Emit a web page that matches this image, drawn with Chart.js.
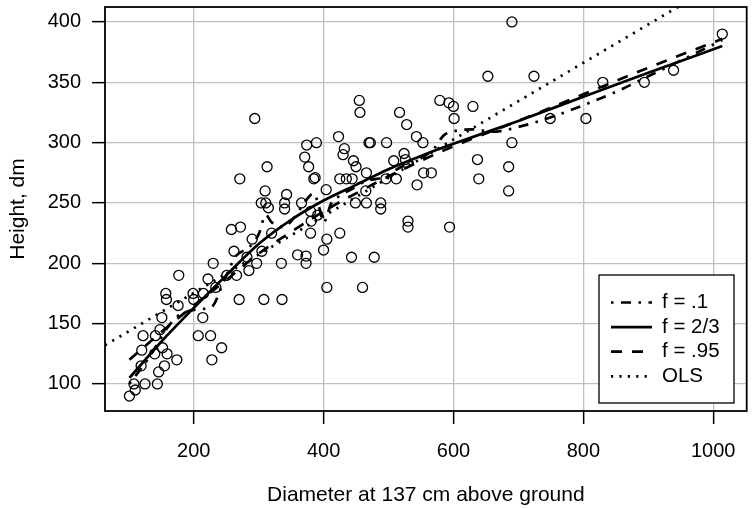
<!DOCTYPE html>
<html>
<head>
<meta charset="utf-8">
<script src="https://cdn.jsdelivr.net/npm/chart.js@4.4.0/dist/chart.umd.min.js"></script>
<style>
    html, body { margin: 0; padding: 0; background: #fff; }
    #wrap { width: 753px; height: 508px; }
</style>
</head>
<body>
<div id="wrap"><canvas id="chart" width="753" height="508"></canvas></div>
<script>
// Tree measurements: diameter at 137 cm (x) and height in dm (y)
const diameter = [101, 110, 108, 125, 144, 119, 146, 155, 140, 120, 122, 141, 148, 152, 159, 174, 151, 176, 157, 158,
    177, 199, 200, 214, 207, 226, 243, 228, 215, 222, 230, 234, 251, 266, 270, 308, 336, 262, 282, 285,
    297, 290, 305, 320, 258, 272, 335, 294, 271, 313, 310, 304, 311, 315, 343, 340, 340, 366, 374, 389,
    371, 377, 385, 387, 404, 380, 381, 391, 380, 405, 400, 425, 360, 373, 373, 443, 478, 423, 432, 430,
    446, 450, 455, 456, 470, 472, 497, 517, 508, 466, 425, 435, 444, 512, 496, 465, 449, 466, 488, 488,
    405, 460, 653, 724, 528, 579, 593, 600, 630, 601, 543, 553, 690, 524, 526, 637, 685, 639, 685, 554,
    566, 544, 749, 530, 530, 594, 690, 830, 894, 939, 1014, 804];
const height = [90, 95, 100, 100, 100, 115, 110, 115, 125, 128, 140, 140, 145, 130, 125, 120, 155, 165, 175, 170,
    190, 175, 170, 155, 140, 140, 130, 120, 175, 187, 200, 180, 190, 190, 170, 170, 170, 210, 205, 194,
    200, 220, 210, 225, 228, 230, 200, 320, 270, 280, 260, 250, 250, 246, 257, 250, 245, 250, 298, 300,
    288, 280, 270, 271, 261, 243, 235, 240, 225, 220, 211, 225, 207, 206, 200, 205, 205, 305, 295, 290,
    285, 280, 335, 325, 300, 300, 300, 325, 285, 275, 270, 270, 270, 270, 270, 260, 250, 250, 250, 245,
    180, 180, 355, 355, 315, 335, 333, 330, 330, 320, 305, 300, 300, 291, 286, 286, 280, 270, 260, 275,
    275, 265, 320, 235, 230, 230, 400, 350, 350, 360, 390, 320];

// loess fits
const fitX = [101, 150, 200, 250, 300, 350, 400, 450, 500, 550, 600, 700, 800, 900, 1014];
const fitMid = [105, 135, 163, 190, 216, 236, 252, 265, 278, 289, 299, 318, 338, 358, 380];   // f = 2/3
const fitWide = [120, 143, 165, 186, 208, 226, 243, 258, 272, 285, 297, 318, 340, 362, 386];  // f = .95
const roughX = [101, 115, 130, 145, 160, 175, 190, 210, 228, 247, 265, 285, 300, 311, 320, 338, 355, 370, 385, 393,
    400, 412, 425, 445, 465, 490, 520, 550, 570, 585, 605, 630, 660, 700, 750, 800, 850, 900, 950, 1014];
const fitRough = [100, 110, 121, 134, 147, 156, 160, 162, 164, 186, 206, 213, 224, 240, 234, 230, 238, 250, 258, 247,
    234, 250, 256, 262, 268, 271, 280, 287, 295, 306, 310, 311, 309, 313, 321, 331, 342, 355, 368, 385];  // f = .1

// ordinary least squares line
const olsIntercept = 111.9;
const olsSlope = 0.3178;

const xTicks = [200, 400, 600, 800, 1000];
const yTicks = [100, 150, 200, 250, 300, 350, 400];
const xRange = [63.4, 1051.6];
const yRange = [77.6, 412.4];

const FONT = 'Liberation Sans, Arial, Helvetica, sans-serif';

const toPoints = (xs, ys) => xs.map((x, i) => ({ x: x, y: ys[i] }));

const lineStyle = (label, data, dash) => ({
    type: 'line',
    label: label,
    data: data,
    borderColor: '#000',
    borderWidth: 2.7,
    borderDash: dash,
    pointRadius: 0,
    fill: false,
    cubicInterpolationMode: 'monotone'
});

// frame round the plot + legend box in the lower right
const framePlugin = {
    id: 'frame',
    afterDraw(chart) {
        const ctx = chart.ctx;
        const a = chart.chartArea;
        ctx.save();
        ctx.strokeStyle = '#000';
        ctx.lineWidth = 1.8;
        ctx.setLineDash([]);
        ctx.strokeRect(a.left, a.top, a.right - a.left, a.bottom - a.top);

        // legend
        const box = { x: 599, y: 275, w: 135, h: 128 };
        ctx.fillStyle = '#fff';
        ctx.fillRect(box.x, box.y, box.w, box.h);
        ctx.lineWidth = 1.3;
        ctx.strokeRect(box.x, box.y, box.w, box.h);

        const rows = chart.data.datasets.filter(d => d.type === 'line');
        ctx.font = '20.5px ' + FONT;
        ctx.textBaseline = 'middle';
        ctx.textAlign = 'left';
        rows.forEach((d, i) => {
            const y = 302.5 + i * 24.6;
            ctx.beginPath();
            ctx.lineWidth = d.borderWidth;
            ctx.setLineDash(d.borderDash || []);
            ctx.moveTo(611, y);
            ctx.lineTo(652, y);
            ctx.stroke();
            ctx.setLineDash([]);
            ctx.fillStyle = '#000';
            ctx.fillText(d.label, 662, y);
        });
        ctx.restore();
    }
};

new Chart(document.getElementById('chart'), {
    type: 'scatter',
    data: {
        datasets: [
            lineStyle('f = .1', toPoints(roughX, fitRough), [2.5, 7.5, 10, 7.5]),
            lineStyle('f = 2/3', toPoints(fitX, fitMid), []),
            lineStyle('f = .95', toPoints(fitX, fitWide), [11, 10]),
            Object.assign(lineStyle('OLS', [
                { x: xRange[0], y: olsIntercept + olsSlope * xRange[0] },
                { x: xRange[1], y: olsIntercept + olsSlope * xRange[1] }
            ], [2.2, 6.2]), { cubicInterpolationMode: 'default', tension: 0 }),
            {
                type: 'scatter',
                label: 'trees',
                data: toPoints(diameter, height),
                pointStyle: 'circle',
                pointRadius: 5,
                pointBorderWidth: 1.3,
                borderColor: '#000',
                backgroundColor: 'rgba(0,0,0,0)'
            }
        ]
    },
    options: {
        responsive: false,
        animation: false,
        devicePixelRatio: 1,
        events: [],
        layout: { padding: { top: 7, right: 6, left: 0, bottom: 0 } },
        plugins: {
            legend: { display: false },
            tooltip: { enabled: false }
        },
        scales: {
            x: {
                type: 'linear',
                min: xRange[0],
                max: xRange[1],
                afterBuildTicks: axis => { axis.ticks = xTicks.map(v => ({ value: v })); },
                afterFit: axis => {
                    axis.height = 97;
                    axis.paddingLeft = 0;
                    axis.paddingRight = 0;
                },
                ticks: {
                    font: { family: FONT, size: 20 }, color: '#000', padding: 15, maxRotation: 0,
                    callback: v => String(v)
                },
                grid: { color: '#c0c0c0', lineWidth: 1.3, tickColor: '#000', tickLength: 13, tickWidth: 1.5 },
                border: { display: false },
                title: {
                    display: true,
                    text: 'Diameter at 137 cm above ground',
                    font: { family: FONT, size: 21 },
                    color: '#000',
                    padding: 0
                }
            },
            y: {
                type: 'linear',
                min: yRange[0],
                max: yRange[1],
                afterBuildTicks: axis => { axis.ticks = yTicks.map(v => ({ value: v })); },
                afterFit: axis => {
                    axis.width = 105;
                    axis.paddingTop = 0;
                    axis.paddingBottom = 0;
                },
                ticks: { font: { family: FONT, size: 20 }, color: '#000', padding: 11, callback: v => String(v) },
                grid: { color: '#c0c0c0', lineWidth: 1.3, tickColor: '#000', tickLength: 13, tickWidth: 1.5 },
                border: { display: false },
                title: {
                    display: true,
                    text: 'Height, dm',
                    font: { family: FONT, size: 21 },
                    color: '#000',
                    padding: { top: 6, bottom: 0 }
                }
            }
        }
    },
    plugins: [framePlugin]
});
</script>
</body>
</html>
